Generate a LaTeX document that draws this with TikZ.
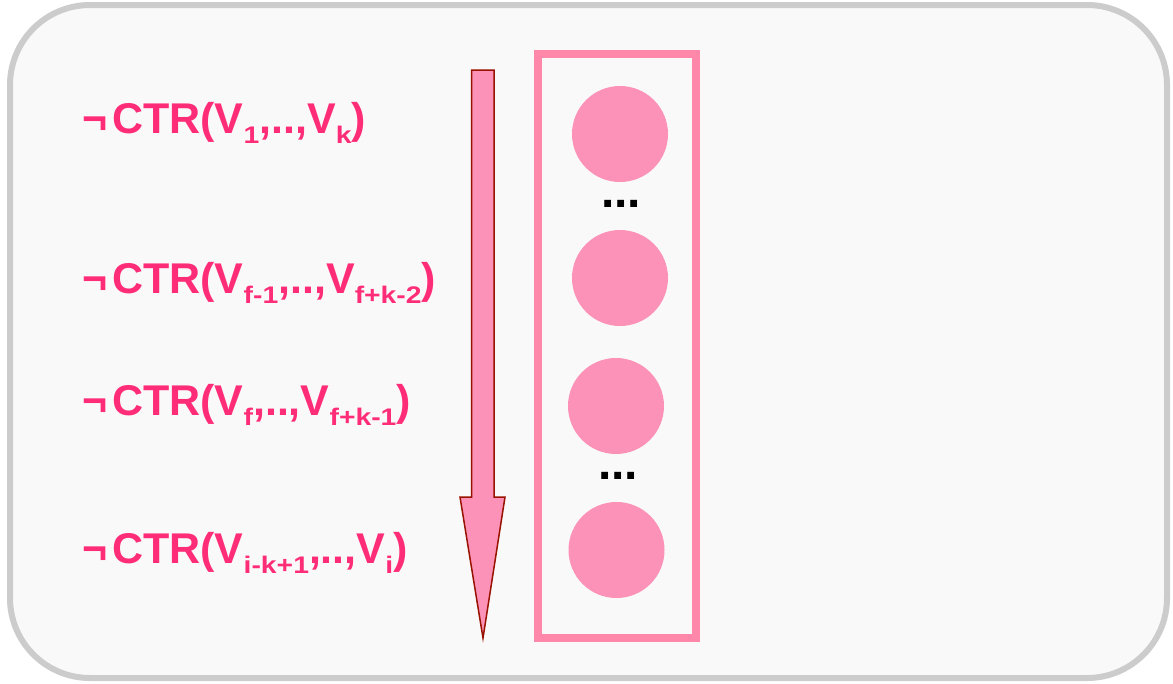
\documentclass[tikz,border=0pt]{standalone}
\usepackage{fontspec}
\setmainfont{Liberation Sans}
\definecolor{txtpink}{RGB}{255,45,120}
\definecolor{circpink}{RGB}{252,146,183}
\definecolor{boxpink}{RGB}{255,136,170}
\definecolor{arrred}{RGB}{153,17,0}
\definecolor{bggray}{RGB}{249,249,249}
\definecolor{framegray}{RGB}{204,204,204}
\newcommand{\sbs}[1]{\raisebox{-10pt}{\scalebox{1.18}[1]{\fontsize{24}{24}\selectfont\bfseries #1}}}
\newcommand{\notsym}{¬\kern5pt}
\tikzset{
  lbl/.style={anchor=base west, inner sep=0pt, text=txtpink, font=\fontsize{43}{43}\selectfont\bfseries},
  dot/.style={circle, fill=circpink, minimum size=96pt, inner sep=0pt},
  dots/.style={anchor=base, inner sep=0pt, font=\fontsize{48}{48}\selectfont\bfseries}
}
\begin{document}
\begin{tikzpicture}[x=1pt,y=-1pt]
\useasboundingbox (0,0) rectangle (1173,683);
\draw[framegray, line width=6pt, fill=bggray, rounded corners=80pt] (10,5) rectangle (1167,678);
% labels
\node[lbl] (l1) at (82,133) {\notsym CTR(V\sbs{1},..,V\sbs{k})};
\node[lbl] (l2) at (82,293) {\notsym CTR(V\sbs{f-1},..,V\sbs{f+k-2})};
\node[lbl] (l3) at (82,415) {\notsym CTR(V\sbs{f},..,V\sbs{f+k-1})};
\node[lbl] (l4) at (82,563) {\notsym CTR(V\sbs{i-k+1},..,V\sbs{i})};
% arrow
\draw[arrred, line width=1.5pt, fill=circpink, line join=miter]
  (471.5,70) -- (494,70) -- (494,497) -- (505,497) -- (483,638) -- (460,497) -- (471.5,497) -- cycle;
% box
\node[draw=boxpink, line width=8pt, minimum width=158.5pt, minimum height=584pt, inner sep=0pt] (box) at (616.75,346) {};
% circles
\node[dot] (c1) at (620,134) {};
\node[dot] (c2) at (620,278) {};
\node[dot] (c3) at (616,406) {};
\node[dot] (c4) at (616.5,550) {};
\node[dots] (d1) at (621,207.5) {...};
\node[dots] (d2) at (618,479.5) {...};
\end{tikzpicture}
\end{document}
